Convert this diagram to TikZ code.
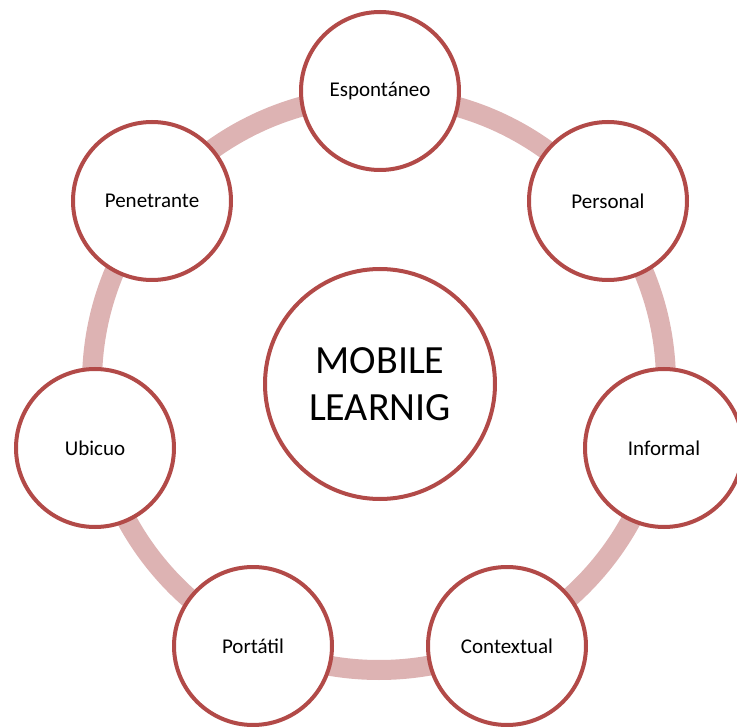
\documentclass[tikz,border=0pt]{standalone}
\usepackage{fontspec}
\setmainfont{Carlito}
\definecolor{edgered}{RGB}{178,74,72}
\definecolor{ringpink}{RGB}{221,179,179}
\begin{document}
\begin{tikzpicture}[x=1pt,y=-1pt,
  petal/.style={circle,draw=edgered,line width=4pt,fill=white,minimum size=158pt,inner sep=0pt,
    font=\fontsize{21}{25}\selectfont,text=black},
  hub/.style={circle,draw=edgered,line width=4pt,fill=white,minimum size=230pt,inner sep=0pt,
    font=\fontsize{40}{47}\selectfont,align=center,text=black},
  ring/.style={draw=ringpink,line width=20pt}]
\useasboundingbox (0,0) rectangle (737,727);
\coordinate (ringc) at (379,383);
\draw[ring] (ringc) circle[radius=287];
\node[petal] (esp) at (380,91) {Espontáneo};
\node[petal] (per) at (608,201) {Personal};
\node[petal] (inf) at (664,448) {Informal};
\node[petal] (con) at (507,646) {Contextual};
\node[petal] (por) at (253,646) {Portátil};
\node[petal] (ubi) at (95,448) {Ubicuo};
\node[petal] (pen) at (152,201) {Penetrante};
\node[hub] (ml) at (380,384) {MOBILE\\LEARNIG};
\end{tikzpicture}
\end{document}
